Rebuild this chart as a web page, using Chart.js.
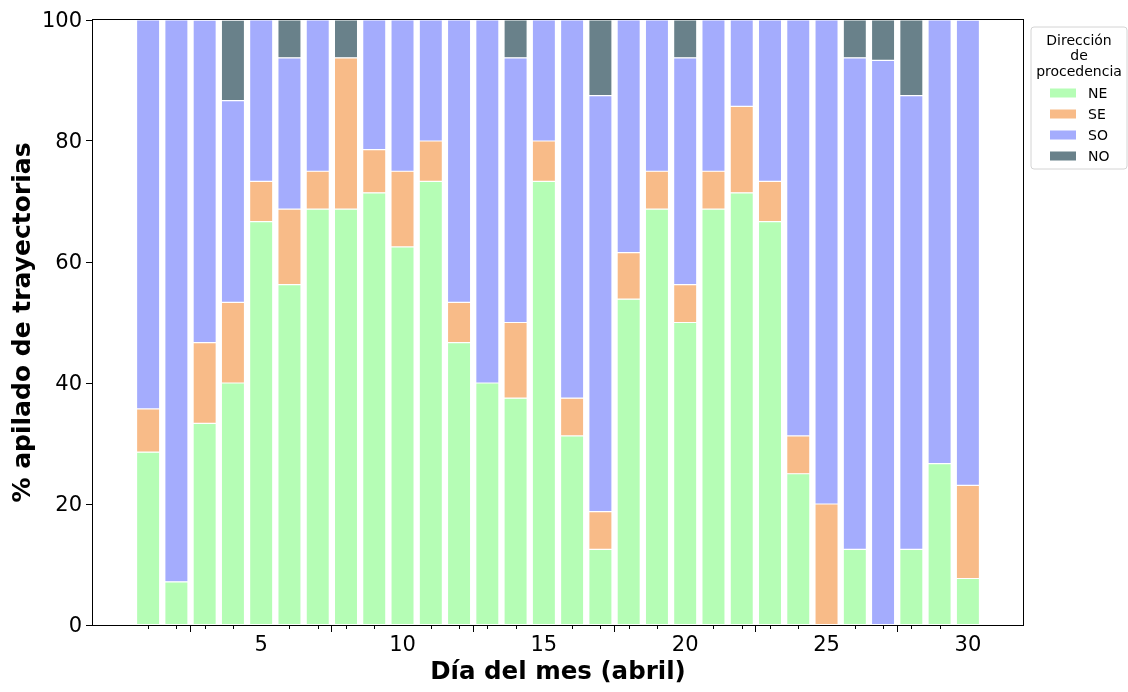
<!DOCTYPE html>
<html>
<head>
<meta charset="utf-8">
<script src="https://cdn.jsdelivr.net/npm/chart.js@4/dist/chart.umd.min.js"></script>
<style>
  html, body { margin: 0; padding: 0; background: #ffffff; }
  #wrap { width: 1128px; height: 692px; position: relative; }
</style>
</head>
<body>
<div id="wrap"><canvas id="chart"></canvas></div>
<script>
// Días de abril y porcentaje apilado de trayectorias por dirección de procedencia
const days = [1,2,3,4,5,6,7,8,9,10,11,12,13,14,15,16,17,18,19,20,21,22,23,24,25,26,27,28,29,30];
const seriesNames = ['NE', 'SE', 'SO', 'NO'];
const neValues = [28.57, 7.14, 33.33, 40, 66.67, 56.25, 68.75, 68.75, 71.43, 62.5, 73.33, 46.67, 40, 37.5, 73.33, 31.25, 12.5, 53.85, 68.75, 50, 68.75, 71.43, 66.67, 25, 0, 12.5, 0, 12.5, 26.67, 7.69];
const seValues = [7.14, 0, 13.33, 13.33, 6.67, 12.5, 6.25, 25, 7.14, 12.5, 6.67, 6.67, 0, 12.5, 6.67, 6.25, 6.25, 7.69, 6.25, 6.25, 6.25, 14.29, 6.67, 6.25, 20, 0, 0, 0, 0, 15.38];
const soValues = [64.29, 92.86, 53.33, 33.33, 26.67, 25, 25, 0, 21.43, 25, 20, 46.67, 60, 43.75, 20, 62.5, 68.75, 38.46, 25, 37.5, 25, 14.29, 26.67, 68.75, 80, 81.25, 93.33, 75, 73.33, 76.92];
const noValues = [0, 0, 0, 13.33, 0, 6.25, 0, 6.25, 0, 0, 0, 0, 0, 6.25, 0, 0, 12.5, 0, 0, 6.25, 0, 0, 0, 0, 0, 6.25, 6.67, 12.5, 0, 0];
const xTickValues = [5, 10, 15, 20, 25, 30];
const yTickValues = [0, 20, 40, 60, 80, 100];
const legendTitle = ['Dirección', 'de', 'procedencia'];
const xTitle = 'Día del mes (abril)';
const yTitle = '% apilado de trayectorias';

const colors = ['#b5fdb5', '#f8bb88', '#a4acfd', '#69818a'];
const FONT = "'DejaVu Sans', sans-serif";

function toPoints(values) {
  return days.map((d, i) => ({ x: d, y: values[i] }));
}

const allValues = [neValues, seValues, soValues, noValues];
const datasets = allValues.map((vals, k) => ({
  label: seriesNames[k],
  data: toPoints(vals),
  backgroundColor: colors[k],
  borderColor: '#ffffff',
  borderWidth: 0.6,
  borderSkipped: false,
  barPercentage: 0.82,
  categoryPercentage: 1.0,
  stack: 'dir'
}));

// Marco, marcas menores del eje x y leyenda
const decorations = {
  id: 'decorations',
  afterDraw(chart) {
    const ctx = chart.ctx;
    const area = chart.chartArea;
    const xs = chart.scales.x;
    ctx.save();
    // marcas menores en cada día
    ctx.strokeStyle = '#000000';
    ctx.lineWidth = 1;
    days.forEach(d => {
      if (xTickValues.includes(d)) return;
      const px = Math.round(xs.getPixelForValue(d)) + 0.5;
      ctx.beginPath();
      ctx.moveTo(px, area.bottom);
      ctx.lineTo(px, area.bottom + 4);
      ctx.stroke();
    });
    // marco
    ctx.strokeStyle = '#000000';
    ctx.lineWidth = 1;
    ctx.strokeRect(Math.round(area.left) - 0.5, Math.round(area.top) - 0.5,
                   Math.round(area.right - area.left) + 1, Math.round(area.bottom - area.top) + 1);

    // leyenda
    const bx = 1031, by = 27, bw = 96, bh = 142, r = 3;
    ctx.beginPath();
    ctx.moveTo(bx + r, by);
    ctx.lineTo(bx + bw - r, by);
    ctx.quadraticCurveTo(bx + bw, by, bx + bw, by + r);
    ctx.lineTo(bx + bw, by + bh - r);
    ctx.quadraticCurveTo(bx + bw, by + bh, bx + bw - r, by + bh);
    ctx.lineTo(bx + r, by + bh);
    ctx.quadraticCurveTo(bx, by + bh, bx, by + bh - r);
    ctx.lineTo(bx, by + r);
    ctx.quadraticCurveTo(bx, by, bx + r, by);
    ctx.closePath();
    ctx.fillStyle = 'rgba(255,255,255,0.85)';
    ctx.fill();
    ctx.strokeStyle = '#d4d4d4';
    ctx.lineWidth = 1;
    ctx.stroke();

    ctx.fillStyle = '#000000';
    ctx.font = '14px ' + FONT;
    ctx.textAlign = 'center';
    ctx.textBaseline = 'middle';
    legendTitle.forEach((line, i) => {
      ctx.fillText(line, bx + bw / 2, 41 + i * 15.5);
    });
    ctx.textAlign = 'left';
    chart.data.datasets.forEach((ds, i) => {
      const cy = 93 + i * 21;
      ctx.fillStyle = ds.backgroundColor;
      ctx.fillRect(1050, cy - 4.5, 26, 9);
      ctx.fillStyle = '#000000';
      ctx.fillText(ds.label, 1088, cy + 1);
    });
    ctx.restore();
  }
};

new Chart(document.getElementById('chart'), {
  type: 'bar',
  data: { datasets },
  plugins: [decorations],
  options: {
    responsive: true,
    maintainAspectRatio: false,
    animation: false,
    devicePixelRatio: 1,
    layout: { padding: { left: 0, top: 20, right: 105, bottom: 0 } },
    plugins: {
      legend: { display: false },
      tooltip: { enabled: false }
    },
    scales: {
      x: {
        type: 'linear',
        stacked: true,
        offset: false,
        min: -0.95,
        max: 31.95,
        afterBuildTicks(scale) {
          scale.ticks = xTickValues.map(v => ({ value: v }));
        },
        afterFit(scale) { scale.height = 67; },
        ticks: {
          color: '#000000',
          font: { family: FONT, size: 21 },
          padding: 1,
          maxRotation: 0,
          autoSkip: false
        },
        grid: { drawOnChartArea: false, drawTicks: true, tickLength: 7, tickColor: '#000000', tickWidth: 1 },
        border: { display: false },
        title: {
          display: true,
          text: xTitle,
          color: '#000000',
          font: { family: FONT, size: 24.5, weight: 'bold' },
          padding: { top: 0, bottom: 5 }
        }
      },
      y: {
        stacked: true,
        min: 0,
        max: 100,
        afterBuildTicks(scale) {
          scale.ticks = yTickValues.map(v => ({ value: v }));
        },
        afterFit(scale) { scale.width = 93; },
        ticks: {
          color: '#000000',
          font: { family: FONT, size: 21 },
          padding: 4,
          labelOffset: 2
        },
        grid: { drawOnChartArea: false, drawTicks: true, tickLength: 7, tickColor: '#000000', tickWidth: 1 },
        border: { display: false },
        title: {
          display: true,
          text: yTitle,
          color: '#000000',
          font: { family: FONT, size: 25, weight: 'bold' },
          padding: { top: 8, bottom: 0 }
        }
      }
    }
  }
});
</script>
</body>
</html>
